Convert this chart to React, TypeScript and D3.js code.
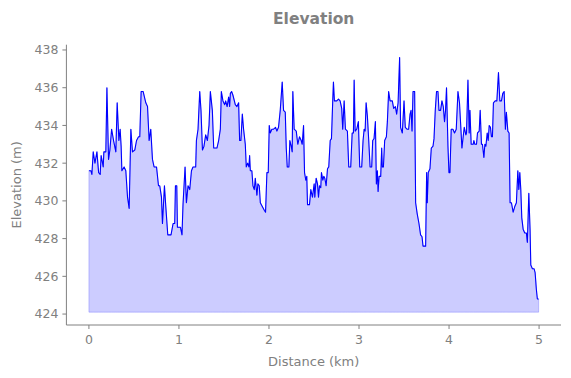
import React from "react";
import * as d3 from "d3";

const distanceKm = [
  0.000, 0.022, 0.033, 0.048, 0.067, 0.089, 0.108, 0.125, 0.136, 0.159, 0.166, 0.188, 0.200, 0.218, 0.233, 0.252, 0.274, 0.299, 0.314, 0.333,
  0.347, 0.358, 0.366, 0.391, 0.410, 0.429, 0.447, 0.466, 0.484, 0.510, 0.529, 0.551, 0.565, 0.580, 0.602, 0.632, 0.651, 0.669, 0.687, 0.706,
  0.724, 0.751, 0.773, 0.787, 0.806, 0.817, 0.839, 0.854, 0.876, 0.912, 0.935, 0.953, 0.961, 0.976, 0.983, 1.017, 1.034, 1.045, 1.068, 1.083,
  1.101, 1.120, 1.139, 1.156, 1.186, 1.194, 1.212, 1.231, 1.245, 1.261, 1.278, 1.297, 1.316, 1.334, 1.349, 1.371, 1.386, 1.422, 1.441, 1.460,
  1.471, 1.489, 1.508, 1.519, 1.535, 1.552, 1.563, 1.571, 1.585, 1.600, 1.626, 1.644, 1.663, 1.674, 1.688, 1.704, 1.718, 1.737, 1.748, 1.763,
  1.777, 1.785, 1.793, 1.810, 1.822, 1.837, 1.848, 1.866, 1.877, 1.892, 1.904, 1.926, 1.948, 1.962, 1.977, 1.992, 2.003, 2.014, 2.032, 2.051,
  2.073, 2.088, 2.106, 2.125, 2.147, 2.162, 2.181, 2.192, 2.203, 2.221, 2.232, 2.247, 2.258, 2.265, 2.280, 2.303, 2.320, 2.339, 2.358, 2.369,
  2.384, 2.395, 2.409, 2.420, 2.428, 2.450, 2.465, 2.483, 2.502, 2.509, 2.524, 2.539, 2.550, 2.561, 2.575, 2.583, 2.598, 2.609, 2.620, 2.635,
  2.650, 2.664, 2.680, 2.694, 2.708, 2.716, 2.727, 2.753, 2.772, 2.790, 2.808, 2.819, 2.835, 2.849, 2.871, 2.886, 2.908, 2.924, 2.938, 2.946,
  2.957, 2.975, 2.993, 3.008, 3.030, 3.045, 3.057, 3.068, 3.079, 3.093, 3.108, 3.123, 3.141, 3.152, 3.167, 3.182, 3.193, 3.204, 3.212, 3.223,
  3.241, 3.252, 3.259, 3.271, 3.285, 3.304, 3.315, 3.329, 3.345, 3.370, 3.385, 3.404, 3.418, 3.434, 3.451, 3.462, 3.481, 3.500, 3.514, 3.533,
  3.551, 3.567, 3.578, 3.589, 3.600, 3.618, 3.629, 3.647, 3.666, 3.684, 3.700, 3.711, 3.740, 3.751, 3.758, 3.769, 3.788, 3.803, 3.822, 3.833,
  3.847, 3.861, 3.877, 3.888, 3.906, 3.921, 3.936, 3.950, 3.961, 3.972, 3.988, 3.999, 4.010, 4.024, 4.043, 4.061, 4.080, 4.099, 4.116, 4.132,
  4.143, 4.157, 4.169, 4.187, 4.194, 4.210, 4.224, 4.232, 4.246, 4.268, 4.276, 4.287, 4.305, 4.316, 4.335, 4.346, 4.360, 4.371, 4.387, 4.398,
  4.409, 4.424, 4.435, 4.446, 4.460, 4.471, 4.482, 4.493, 4.512, 4.531, 4.549, 4.564, 4.582, 4.597, 4.612, 4.626, 4.637, 4.653, 4.667, 4.678,
  4.693, 4.712, 4.730, 4.748, 4.764, 4.775, 4.786, 4.797, 4.808, 4.823, 4.841, 4.859, 4.870, 4.886, 4.900, 4.908, 4.926, 4.945, 4.956, 4.970,
  4.981, 4.995,
];

const elevationM = [
  431.6, 431.6, 431.4, 432.6, 432.0, 432.6, 431.5, 431.4, 432.4, 431.8, 432.6, 432.6, 436.0, 432.2, 432.7, 433.8, 433.2, 432.6, 435.2, 433.2,
  433.8, 432.9, 431.6, 431.8, 431.6, 430.2, 429.6, 433.8, 432.6, 432.7, 433.2, 433.4, 433.4, 435.8, 435.8, 435.2, 435.0, 433.2, 433.8, 432.2,
  431.8, 431.8, 430.8, 430.8, 430.2, 428.8, 430.8, 429.7, 428.2, 428.2, 428.8, 428.8, 430.8, 430.8, 428.6, 428.6, 428.2, 429.8, 431.8, 429.9,
  430.8, 430.6, 431.6, 431.8, 431.8, 433.2, 433.8, 435.8, 434.8, 432.7, 432.9, 433.5, 433.2, 434.0, 435.8, 434.8, 432.8, 432.8, 433.2, 433.8,
  435.8, 435.3, 435.1, 435.3, 435.0, 435.5, 435.0, 435.7, 435.8, 435.6, 435.1, 435.0, 435.2, 433.2, 433.2, 434.6, 433.8, 433.0, 431.8, 432.0,
  431.8, 432.4, 431.6, 431.6, 430.8, 430.6, 431.2, 430.3, 430.9, 430.8, 429.9, 429.7, 429.5, 429.4, 431.5, 431.5, 434.0, 433.6, 433.8, 433.8,
  433.9, 433.7, 433.9, 434.8, 436.3, 434.8, 434.7, 432.8, 431.8, 431.8, 433.2, 432.9, 432.6, 435.8, 433.8, 433.7, 433.0, 433.4, 433.2, 433.0,
  434.0, 431.5, 431.1, 431.3, 429.8, 429.8, 430.6, 430.2, 430.9, 430.2, 431.2, 430.9, 430.2, 430.8, 430.7, 431.5, 431.1, 431.3, 431.2, 430.8,
  431.7, 431.8, 433.2, 433.3, 435.3, 436.3, 435.3, 435.3, 435.4, 435.3, 434.9, 433.8, 435.3, 433.8, 433.7, 431.8, 431.8, 433.6, 433.6, 436.4,
  433.7, 433.8, 434.2, 431.8, 431.8, 433.2, 433.8, 433.7, 435.2, 434.5, 433.2, 431.8, 431.8, 433.2, 433.3, 434.2, 430.9, 431.6, 430.5, 431.3,
  431.3, 432.8, 431.8, 431.8, 433.2, 433.4, 434.2, 435.8, 435.3, 435.3, 434.9, 435.0, 434.6, 435.2, 437.6, 433.9, 433.6, 435.3, 433.9, 433.8,
  433.8, 434.6, 434.8, 433.7, 435.8, 435.8, 429.9, 429.3, 428.8, 428.2, 428.1, 427.6, 427.6, 431.5, 429.9, 431.5, 431.7, 432.8, 432.9, 433.3,
  434.8, 435.8, 435.8, 434.8, 434.8, 435.3, 435.0, 434.2, 434.8, 436.0, 432.9, 431.5, 431.5, 433.8, 433.8, 433.6, 433.8, 435.8, 435.2, 433.8,
  432.8, 433.4, 433.9, 433.5, 433.6, 436.4, 433.6, 434.8, 433.0, 433.0, 433.2, 433.0, 433.0, 433.6, 433.7, 434.8, 433.0, 433.0, 432.3, 433.0,
  432.9, 433.6, 433.2, 434.0, 433.9, 433.4, 433.4, 435.2, 435.3, 435.3, 436.8, 435.3, 435.3, 435.7, 435.8, 433.8, 434.7, 433.7, 433.6, 429.9,
  429.9, 429.4, 429.7, 429.9, 431.6, 430.6, 431.5, 430.6, 429.1, 428.5, 428.3, 428.3, 427.8, 430.4, 428.5, 426.6, 426.4, 426.4, 426.2, 425.3,
  424.8, 424.8,
];

const fillBase = 424.1;
const xTicks = [0, 1, 2, 3, 4, 5];
const yTicks = [424, 426, 428, 430, 432, 434, 436, 438];
const title = "Elevation";
const xLabel = "Distance (km)";
const yLabel = "Elevation (m)";

export default function App() {
  const W = 571;
  const H = 378;
  const left = 66.4;
  const right = 561;
  const top = 44.7;
  const bottom = 325;
  const grey = "#808080";
  const font = "DejaVu Sans, sans-serif";

  const x = d3.scaleLinear().domain([-0.25, 5.2435]).range([left, right]);
  const y = d3.scaleLinear().domain([423.42, 438.28]).range([bottom, top]);

  const pts: [number, number][] = distanceKm.map((d, i) => [d, elevationM[i]]);
  const line = d3
    .line<[number, number]>()
    .x((d) => x(d[0]))
    .y((d) => y(d[1]));
  const area = d3
    .area<[number, number]>()
    .x((d) => x(d[0]))
    .y0(() => y(fillBase))
    .y1((d) => y(d[1]));

  return (
    <svg
      width={W}
      height={H}
      style={{ position: "absolute", left: 0, top: 0, background: "#fff" }}
      fontFamily={font}
    >
      <path d={area(pts) || ""} fill="rgba(0,0,255,0.2)" stroke="rgba(0,0,255,0.2)" strokeWidth={1} />
      <path d={line(pts) || ""} fill="none" stroke="#0000ff" strokeWidth={1.1} strokeLinejoin="round" />

      <line x1={left} x2={left} y1={top} y2={bottom} stroke={grey} strokeWidth={1} />
      <line x1={left} x2={right} y1={bottom} y2={bottom} stroke={grey} strokeWidth={1} />

      {yTicks.map((t) => (
        <g key={"y" + t}>
          <line x1={left - 4} x2={left} y1={y(t)} y2={y(t)} stroke={grey} strokeWidth={1} />
          <text x={left - 8} y={y(t)} dy="0.35em" textAnchor="end" fontSize={12.5} fill={grey}>
            {t}
          </text>
        </g>
      ))}
      {xTicks.map((t) => (
        <g key={"x" + t}>
          <line x1={x(t)} x2={x(t)} y1={bottom} y2={bottom + 4} stroke={grey} strokeWidth={1} />
          <text x={x(t)} y={bottom + 19} textAnchor="middle" fontSize={12.5} fill={grey}>
            {t}
          </text>
        </g>
      ))}

      <text x={(left + right) / 2} y={24} textAnchor="middle" fontSize={15.5} fontWeight="bold" fill={grey}>
        {title}
      </text>
      <text x={(left + right) / 2} y={366} textAnchor="middle" fontSize={13} fill={grey}>
        {xLabel}
      </text>
      <text
        transform={`translate(21, ${(top + bottom) / 2}) rotate(-90)`}
        textAnchor="middle"
        fontSize={13}
        fill={grey}
      >
        {yLabel}
      </text>
    </svg>
  );
}
